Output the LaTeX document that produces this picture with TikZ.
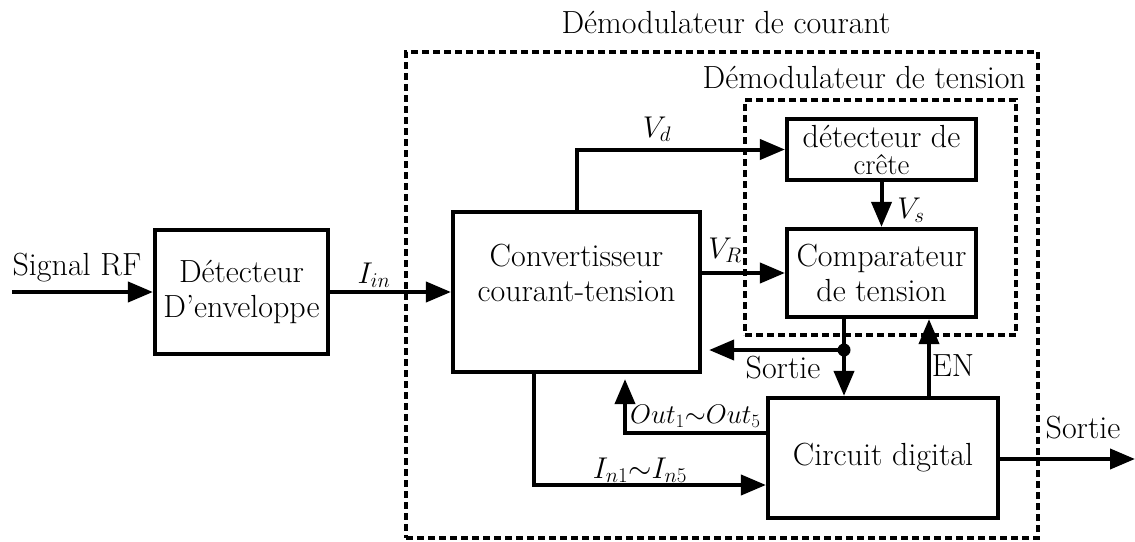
\RequirePackage{fix-cm}
\documentclass[tikz,border=0pt]{standalone}
\usepackage{fontspec}
\usetikzlibrary{arrows.meta}
\newcommand\mainfs{\fontsize{32}{35}\selectfont}
\newcommand\mathfs{\fontsize{30}{34}\selectfont}
\newcommand\tightfs{\fontsize{27}{30}\selectfont}
\newcommand\smallfs{\fontsize{29}{30}\selectfont}
\tikzset{
  box/.style={draw, line width=4.2pt, align=center, inner sep=0pt, font=\mainfs},
  conn/.style={line width=4pt},
  arr/.style={conn, -{Triangle[length=25pt,width=20pt]}},
  dbox/.style={draw, line width=3.8pt, dash pattern=on 7pt off 4pt, inner sep=0pt},
  lbl/.style={font=\mainfs, inner sep=0pt, anchor=base},
  mlbl/.style={font=\mathfs, inner sep=0pt, anchor=base}
}
\begin{document}
\begin{tikzpicture}[x=1pt,y=-1pt]
\useasboundingbox (0,0) rectangle (1135,541);
% dashed frames
\node[dbox, minimum width=632pt, minimum height=486pt] (outer) at (722,295) {};
\node[dbox, minimum width=271pt, minimum height=235pt] (inner) at (880.5,217.5) {};
\node[lbl] (tout) at (726,33) {Démodulateur de courant};
\node[lbl, anchor=base east] (tin) at (1026,88) {Démodulateur de tension};
% blocks
\node[box, minimum width=173pt, minimum height=124pt] (env) at (241.5,292) {Détecteur\\D’enveloppe};
\node[box, minimum width=247pt, minimum height=160pt] (conv) at (576.5,292) {Convertisseur\\courant-tension\\[4pt]};
\node[box, minimum width=189pt, minimum height=61pt] (peak) at (881.5,149.5) {détecteur de\\[-8pt]{\smallfs crête}};
\node[box, minimum width=189pt, minimum height=88pt] (comp) at (881.5,273) {Comparateur\\de tension};
\node[box, minimum width=230pt, minimum height=120pt] (dig) at (883,458) {Circuit digital};
% connectors
\coordinate (rfin) at (12,292);
\draw[arr] (rfin) -- (env.west);
\node[lbl] (lrf) at (77,275) {Signal RF};
\draw[arr] (env.east) -- (conv.west);
\node[mlbl] (lin) at (374,283) {$I_{in}$};
\draw[arr] (conv.north) |- (peak.west);
\node[mlbl] (lvd) at (657,137) {$V_d$};
\draw[arr] (conv.east |- comp.west) -- (comp.west);
\node[mlbl] (lvr) at (725,258) {$V_R$};
\draw[arr] (peak.south) -- (comp.north);
\node[mlbl] (lvs) at (911,218) {$V_s$};
\coordinate (j) at (844,350);
\draw[conn] (comp.south -| j) -- (j);
\fill (j) circle (6.5pt);
\draw[arr, shorten >=7pt] (j) -- (conv.east |- j);
\draw[arr] (j) -- (dig.north -| j);
\node[lbl] (lso) at (783,378) {Sortie};
\coordinate (enx) at (929,0);
\draw[arr] (dig.north -| enx) -- (comp.south -| enx);
\node[lbl] (len) at (953,376) {EN};
\coordinate (outy) at (0,433);
\coordinate (outx) at (625,0);
\draw[arr, shorten >=5pt] (dig.west |- outy) -| (conv.south -| outx);
\node[mlbl, font=\tightfs, anchor=base west] (lout) at (630,423) {$Out_1{\sim}Out_5$};
\coordinate (iny) at (0,485);
\coordinate (inx) at (534,0);
\draw[arr] (conv.south -| inx) |- (dig.west |- iny);
\node[mlbl] (lins) at (640,478) {$I_{n1}{\sim}I_{n5}$};
\coordinate (sout) at (1135,459);
\draw[arr] (dig.east |- sout) -- (sout);
\node[lbl] (lso2) at (1083,438) {Sortie};
\end{tikzpicture}
\end{document}
